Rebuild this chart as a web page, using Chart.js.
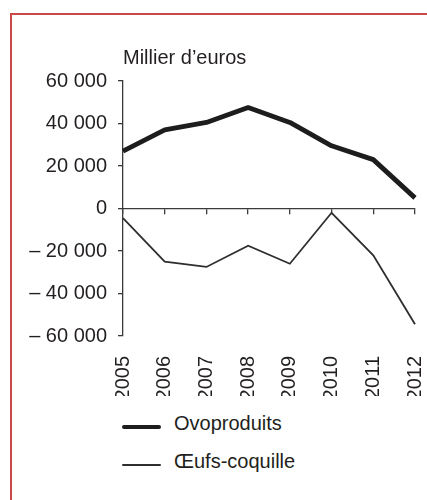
<!DOCTYPE html>
<html lang="fr">
<head>
<meta charset="utf-8">
<title>Ovoproduits et œufs-coquille</title>
<script src="https://cdn.jsdelivr.net/npm/chart.js@4/dist/chart.umd.min.js"></script>
<style>
    html, body { margin: 0; padding: 0; background: #fff; }
    #page { position: absolute; left: 0; top: 0; width: 427px; height: 500px; overflow: hidden;
            font-family: "Liberation Sans", Arial, sans-serif; color: #231f20; }
    /* cadre rouge (haut + gauche seulement) */
    #cadre { position: absolute; left: 10px; top: 13px; width: 600px; height: 600px;
             border-top: 2px solid #c94848; border-left: 2px solid #c94848; }
    #zone { position: absolute; left: 0; top: 0; width: 427px; height: 400px; }
    #legende { position: absolute; left: 0; top: 0; }
    .item { position: absolute; left: 122px; height: 24px; width: 260px; }
    .trait { position: absolute; left: 0; width: 39px; border-radius: 3px; }
    .texte { position: absolute; left: 52px; top: 0; font-size: 20px; line-height: 20px; white-space: nowrap; }
</style>
</head>
<body>
<div id="page">
    <div id="cadre"></div>
    <div id="zone"><canvas id="graphe"></canvas></div>
    <div id="legende"></div>
</div>

<script>
// années (axe des x)
const annees = ["2005", "2006", "2007", "2008", "2009", "2010", "2011", "2012"];

// solde en milliers d'euros
const ovoproduits = [27000, 37000, 40500, 47500, 40500, 29500, 23000, 5000];
const oeufsCoquille = [-4500, -25000, -27500, -17500, -26000, -2000, -22000, -54500];

// graduations de l'axe des y
const graduations = [-60000, -40000, -20000, 0, 20000, 40000, 60000];

const couleurTexte = "#231f20";
const police = { family: "'Liberation Sans', Arial, sans-serif", size: 20 };

// "60 000", "– 20 000"
function formatMillier(v) {
    const s = Math.abs(v).toString().replace(/\B(?=(\d{3})+(?!\d))/g, " ");
    return v < 0 ? "\u2013 " + s : s;
}

// pas de marge auto sur les côtés pour les axes x
function sansMarge(s) {
    s.paddingLeft = 0;
    s.paddingRight = 0;
}

// unité écrite au-dessus de l'axe des y
const uniteAxe = {
    id: "uniteAxe",
    afterDraw(chart) {
        const ctx = chart.ctx;
        ctx.save();
        ctx.font = "20px 'Liberation Sans', Arial, sans-serif";
        ctx.fillStyle = couleurTexte;
        ctx.textAlign = "left";
        ctx.textBaseline = "alphabetic";
        ctx.fillText("Millier d\u2019euros", chart.chartArea.left, chart.chartArea.top - 17);
        ctx.restore();
    }
};

document.addEventListener("DOMContentLoaded", function () {
    const canvas = document.getElementById("graphe");

    const graphe = new Chart(canvas, {
        type: "line",
        data: {
            labels: annees,
            datasets: [
                {
                    label: "Ovoproduits",
                    data: ovoproduits,
                    borderColor: "#1d1d1d",
                    borderWidth: 4.8,
                    borderJoinStyle: "round",
                    pointRadius: 0,
                    tension: 0
                },
                {
                    label: "\u0152ufs-coquille",
                    data: oeufsCoquille,
                    borderColor: "#2e2e2e",
                    borderWidth: 1.8,
                    pointRadius: 0,
                    tension: 0
                }
            ]
        },
        options: {
            responsive: true,
            maintainAspectRatio: false,
            animation: false,
            layout: { padding: { top: 81, right: 12, bottom: 4, left: 0 } },
            plugins: {
                legend: { display: false },
                tooltip: { enabled: false }
            },
            scales: {
                // axe des années en bas (texte seulement)
                x: {
                    position: "bottom",
                    grid: { display: false },
                    border: { display: false },
                    ticks: {
                        color: couleurTexte,
                        font: police,
                        minRotation: 90,
                        maxRotation: 90,
                        padding: 12,
                        autoSkip: false
                    },
                    afterFit: function (s) {
                        s.height = 60;
                        sansMarge(s);
                    }
                },
                // axe horizontal sur le zéro, avec ses petits traits
                x0: {
                    type: "category",
                    position: { y: 0 },
                    ticks: { display: false },
                    grid: {
                        drawOnChartArea: false,
                        drawTicks: true,
                        tickLength: 5,
                        color: "#3a3a3a",
                        lineWidth: 1.3
                    },
                    border: { display: true, color: "#3a3a3a", width: 1.3 },
                    afterFit: sansMarge
                },
                y: {
                    min: -60000,
                    max: 60000,
                    afterBuildTicks: function (s) {
                        s.ticks = graduations.map(v => ({ value: v }));
                    },
                    grid: {
                        drawOnChartArea: false,
                        tickLength: 5,
                        color: "#3a3a3a",
                        lineWidth: 1.3
                    },
                    border: { display: true, color: "#3a3a3a", width: 1.3 },
                    ticks: {
                        color: couleurTexte,
                        font: police,
                        padding: 11,
                        callback: v => formatMillier(v)
                    },
                    afterFit: function (s) { s.width = 123; }
                }
            }
        },
        plugins: [uniteAxe]
    });

    // légende en colonne sous le graphe
    const legende = document.getElementById("legende");
    const hauts = [413, 451];
    graphe.data.datasets.forEach((ds, i) => {
        const item = document.createElement("div");
        item.className = "item";
        item.style.top = hauts[i] + "px";

        const trait = document.createElement("div");
        trait.className = "trait";
        trait.style.height = ds.borderWidth + "px";
        trait.style.top = (i === 0 ? 14 - ds.borderWidth / 2 : 13) + "px";
        trait.style.background = ds.borderColor;

        const texte = document.createElement("div");
        texte.className = "texte";
        texte.textContent = ds.label;

        item.appendChild(trait);
        item.appendChild(texte);
        legende.appendChild(item);
    });
});
</script>
</body>
</html>
